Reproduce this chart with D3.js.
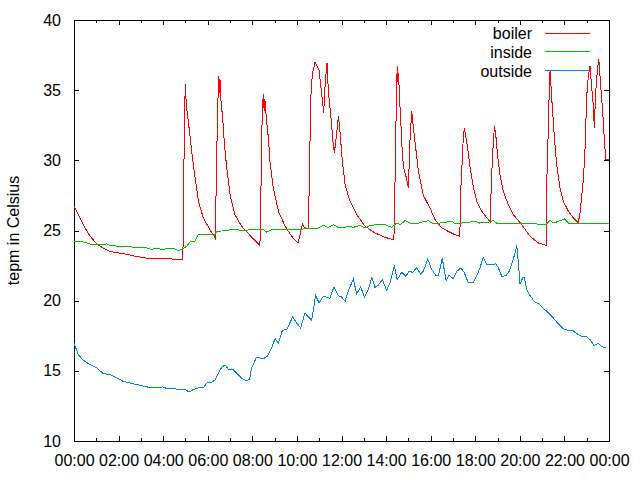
<!DOCTYPE html>
<html><head><meta charset="utf-8">
<script src="https://cdn.jsdelivr.net/npm/d3@7"></script>
<style>body{margin:0;background:#fff}</style>
</head><body>
<svg id="c" width="640" height="480"></svg>
<script>
const seriesNames = ["boiler", "inside", "outside"];
const seriesColors = ["#ff0000", "#00c000", "#0080ff"];
const yLabel = "tepm in Celsius";
const yTicks = [10, 15, 20, 25, 30, 35, 40];

// [hour of day, temperature]
const boilerData = [[0,26.75],[0.27,25.9],[0.49,25.2],[0.72,24.6],[1.02,24.05],[1.3,23.75],[1.61,23.5],[2.21,23.35],[2.81,23.15],[3.41,23.0],[4.31,22.98],[4.88,22.9],
[4.9,24.7],[4.93,29.5],[4.96,33.0],[4.99,35.45],[5.02,34.5],[5.05,33.8],[5.2,31.8],[5.35,29.7],[5.58,27.1],[5.8,25.9],[6.1,25.05],[6.33,24.47],
[6.36,26.5],[6.4,30.0],[6.44,33.6],[6.5,36.0],[6.53,34.8],[6.56,35.7],[6.58,34.45],[6.67,33.0],[6.74,31.35],[6.85,29.46],[7.0,27.56],[7.22,26.13],[7.52,25.3],[7.9,24.65],[8.12,24.3],[8.34,23.94],
[8.37,26.0],[8.41,30.5],[8.45,33.8],[8.5,34.73],[8.53,33.5],[8.56,34.4],[8.64,32.78],[8.72,31.6],[8.79,29.93],[8.94,28.03],[9.17,26.37],[9.47,25.3],[9.77,24.58],[10.05,24.1],[10.25,25.45],[10.33,25.2],[10.45,25.15],
[10.52,25.2],[10.56,29.2],[10.63,34.68],[10.69,36.1],[10.81,37.0],[10.99,36.46],[11.14,34.33],[11.2,33.4],[11.27,35.5],[11.35,36.94],[11.41,34.92],[11.53,33.02],[11.63,31.12],[11.68,30.53],[11.78,31.83],[11.86,33.14],[11.93,32.07],[12.04,29.93],[12.16,28.27],[12.38,27.08],[12.68,26.13],[13.06,25.3],[13.5,24.83],[13.95,24.51],[14.35,24.35],
[14.38,26.37],[14.42,30.4],[14.47,35.0],[14.5,36.7],[14.53,35.6],[14.56,36.2],[14.6,34.5],[14.66,32.8],[14.72,30.8],[14.78,29.5],[14.92,28.7],[15.0,28.0],[15.07,31.35],[15.15,33.49],[15.22,32.42],[15.33,30.88],[15.45,29.22],[15.67,27.5],[15.97,26.6],[16.2,25.77],[16.5,25.18],[16.79,24.94],[17.09,24.7],[17.31,24.6],
[17.34,27.56],[17.4,29.46],[17.46,31.5],[17.51,32.3],[17.55,31.95],[17.66,30.88],[17.77,29.46],[17.92,28.03],[18.07,27.08],[18.29,26.37],[18.52,25.9],[18.68,25.6],
[18.71,27.79],[18.78,30.5],[18.86,32.42],[18.92,31.83],[19.0,30.4],[19.11,28.98],[19.26,27.79],[19.48,26.84],[19.71,26.13],[20.08,25.42],[20.46,24.58],[20.83,24.11],[21.18,23.95],
[21.21,28.5],[21.27,31.83],[21.33,35.6],[21.36,36.46],[21.39,35.63],[21.41,34.92],[21.46,33.73],[21.55,31.6],[21.65,29.7],[21.8,28.03],[21.95,27.08],[22.18,26.37],[22.4,25.9],[22.62,25.54],
[22.7,26.25],[22.85,28.62],[22.93,31.0],[23.0,34.56],[23.07,35.99],[23.15,36.7],[23.22,35.27],[23.3,33.85],[23.34,32.3],[23.4,34.8],[23.48,36.46],[23.54,37.23],[23.63,35.27],[23.72,33.38],[23.79,31.48],[23.86,30.05],[24.0,30.05]];

const insideData = [[0,24.18],[0.27,24.23],[0.57,24.11],[0.79,23.99],[1.32,23.99],[1.47,24.06],[1.62,23.92],[1.76,23.97],[1.99,23.83],[2.59,23.83],[2.66,23.76],[3.26,23.76],[3.49,23.64],[3.68,23.76],[3.93,23.64],[4.16,23.71],[4.53,23.69],[4.68,23.57],[4.83,23.64],[5.06,23.88],[5.2,24.18],[5.43,24.23],[5.58,24.71],[5.8,24.75],[6.18,24.75],[6.28,24.59],[6.4,24.94],[6.85,24.99],[7.0,25.06],[7.3,25.06],[7.6,24.99],[7.9,25.06],[8.5,25.06],[8.64,24.89],[8.88,25.06],[10.06,25.06],[10.36,25.13],[10.96,25.18],[11.19,25.37],[11.41,25.22],[11.63,25.41],[11.86,25.22],[12.08,25.18],[12.3,25.32],[12.53,25.22],[12.83,25.37],[13.06,25.18],[13.28,25.37],[13.65,25.41],[13.95,25.41],[14.25,25.22],[14.48,25.53],[14.63,25.41],[14.85,25.7],[15.07,25.53],[15.3,25.46],[15.6,25.6],[15.9,25.7],[16.05,25.53],[16.4,25.53],[16.95,25.65],[17.09,25.49],[17.5,25.55],[17.99,25.65],[18.2,25.53],[18.59,25.58],[18.81,25.72],[18.96,25.53],[19.5,25.53],[20.23,25.49],[20.83,25.46],[21.16,25.41],[21.36,25.72],[21.5,25.53],[21.73,25.65],[22.0,25.82],[22.18,25.53],[22.62,25.53],[23.67,25.49],[23.78,25.53],[24.0,25.5]];

const outsideData = [[0,17.0],[0.19,16.15],[0.42,15.75],[0.72,15.44],[1.02,15.2],[1.32,14.8],[1.62,14.73],[1.92,14.49],[2.21,14.25],[2.66,14.08],[3.04,13.94],[3.49,13.78],[3.86,13.78],[3.98,13.86],[4.16,13.74],[4.46,13.74],[4.76,13.66],[4.98,13.66],[5.16,13.5],[5.35,13.66],[5.58,13.78],[5.8,13.78],[5.95,14.13],[6.18,14.18],[6.33,14.37],[6.48,14.85],[6.63,15.25],[6.77,15.42],[6.92,15.13],[7.15,15.08],[7.37,14.73],[7.6,14.37],[7.75,14.32],[7.87,14.37],[7.97,15.2],[8.17,15.92],[8.34,15.92],[8.49,15.85],[8.67,16.04],[8.87,16.63],[9.02,17.3],[9.17,16.99],[9.35,17.89],[9.54,17.94],[9.81,18.84],[9.99,18.41],[10.17,18.05],[10.36,19.12],[10.51,18.84],[10.66,18.6],[10.84,20.36],[11.0,19.84],[11.18,20.31],[11.48,20.17],[11.66,20.97],[11.86,20.36],[12.01,20.26],[12.16,19.95],[12.3,20.66],[12.53,21.55],[12.68,20.48],[12.86,20.98],[13.03,20.26],[13.2,20.78],[13.36,21.66],[13.5,20.95],[13.65,21.09],[13.83,21.5],[14.03,20.73],[14.18,21.3],[14.37,22.52],[14.5,21.5],[14.7,22.02],[14.89,21.73],[15.03,22.09],[15.19,22.02],[15.37,22.33],[15.55,21.9],[15.67,22.09],[15.87,22.97],[16.05,22.21],[16.24,21.8],[16.35,21.78],[16.52,23.04],[16.69,21.43],[16.82,21.8],[17.02,21.57],[17.17,22.09],[17.35,22.33],[17.5,22.04],[17.69,21.26],[17.92,21.3],[18.07,21.78],[18.21,22.33],[18.36,23.09],[18.52,22.57],[18.74,22.57],[18.92,22.62],[19.04,22.33],[19.19,21.73],[19.37,21.78],[19.52,22.09],[19.68,22.85],[19.79,23.4],[19.86,23.94],[19.93,22.8],[20.01,21.19],[20.13,21.62],[20.2,21.66],[20.31,20.78],[20.38,20.55],[20.64,19.95],[20.83,19.79],[21.05,19.48],[21.28,19.12],[21.5,18.77],[21.73,18.34],[21.95,18.0],[22.18,17.88],[22.37,17.88],[22.55,17.65],[22.78,17.46],[23.0,17.41],[23.15,17.22],[23.33,16.79],[23.52,16.98],[23.67,16.74],[23.86,16.63]];

const allSeries = [boilerData, insideData, outsideData];

const L = 74, R = 609, T = 20, B = 441;
const FONT = "'Liberation Sans', Arial, sans-serif";
const day0 = new Date(2000, 0, 1, 0, 0, 0);
const toDate = h => new Date(day0.getTime() + h * 3600000);

const svg = d3.select("#c").style("font-family", FONT);
svg.append("rect").attr("width", 640).attr("height", 480).attr("fill", "#fff");

const x = d3.scaleTime().domain([toDate(0), toDate(24)]).range([L, R]);
const y = d3.scaleLinear().domain([10, 40]).range([B, T]);

function styleAxis(g) {
  g.select(".domain").remove();
  g.selectAll("line").attr("stroke", "#000").attr("shape-rendering", "crispEdges");
  g.selectAll("text").attr("fill", "#000").style("font-size", "16px").style("font-family", FONT);
}

// minor hourly ticks (bottom / top)
svg.append("g").attr("transform", `translate(0,${B})`)
  .call(d3.axisBottom(x).ticks(d3.timeHour.every(1)).tickSizeInner(-3).tickSizeOuter(0).tickFormat(""))
  .call(styleAxis);
svg.append("g").attr("transform", `translate(0,${T})`)
  .call(d3.axisTop(x).ticks(d3.timeHour.every(1)).tickSizeInner(-3).tickSizeOuter(0).tickFormat(""))
  .call(styleAxis);

// major ticks
svg.append("g").attr("transform", `translate(0,${B})`)
  .call(d3.axisBottom(x).ticks(d3.timeHour.every(2)).tickFormat(d3.timeFormat("%H:%M"))
    .tickSizeInner(-5).tickSizeOuter(0).tickPadding(14))
  .call(styleAxis);
svg.append("g").attr("transform", `translate(0,${T})`)
  .call(d3.axisTop(x).ticks(d3.timeHour.every(2)).tickSizeInner(-5).tickSizeOuter(0).tickFormat(""))
  .call(styleAxis);
svg.append("g").attr("transform", `translate(${L},0)`)
  .call(d3.axisLeft(y).tickValues(yTicks).tickSizeInner(-5).tickSizeOuter(0).tickPadding(13))
  .call(styleAxis);
svg.append("g").attr("transform", `translate(${R},0)`)
  .call(d3.axisRight(y).tickValues(yTicks).tickSizeInner(-5).tickSizeOuter(0).tickFormat(""))
  .call(styleAxis);

// border
svg.append("rect").attr("x", L).attr("y", T).attr("width", R - L).attr("height", B - T)
  .attr("fill", "none").attr("stroke", "#000").attr("stroke-width", 1).attr("shape-rendering", "crispEdges");

// data lines
const line = d3.line().x(d => x(toDate(d[0]))).y(d => y(d[1]));
allSeries.forEach((data, i) => {
  svg.append("path").datum(data).attr("d", line)
    .attr("fill", "none").attr("stroke", seriesColors[i]).attr("stroke-width", 1)
    .attr("shape-rendering", "crispEdges");
});

// y label
svg.append("text").attr("transform", `translate(19,${(T + B) / 2}) rotate(-90)`)
  .attr("text-anchor", "middle").attr("fill", "#000").style("font-size", "16px").text(yLabel);

// legend
const legendY = [33, 51.7, 70.5];
seriesNames.forEach((name, i) => {
  svg.append("text").attr("x", 532).attr("y", legendY[i] + 6).attr("text-anchor", "end")
    .attr("fill", "#000").style("font-size", "16px").text(name);
  svg.append("line").attr("x1", 545).attr("x2", 590).attr("y1", legendY[i]).attr("y2", legendY[i])
    .attr("stroke", seriesColors[i]).attr("stroke-width", 1).attr("shape-rendering", "crispEdges");
});
</script>
</body></html>
